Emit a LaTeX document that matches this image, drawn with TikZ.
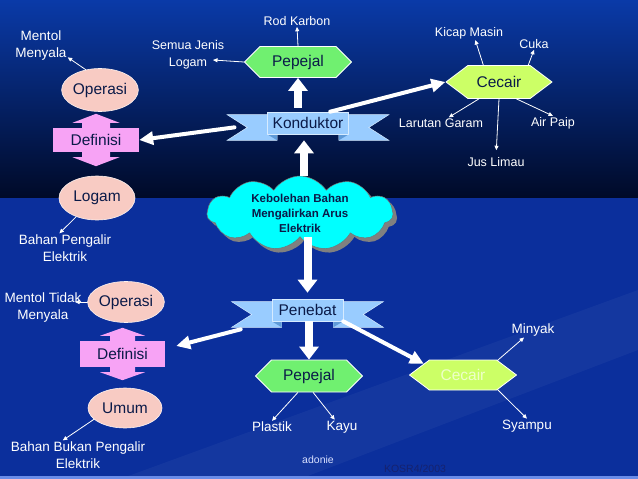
\documentclass[tikz,border=0pt]{standalone}
\usepackage{fontspec}
\setmainfont{Liberation Sans}
\usetikzlibrary{
  arrows.meta,
  positioning,
  calc,
  shapes.geometric,
  shapes.symbols,
  shadows,
  backgrounds
}

\definecolor{bgtop}{HTML}{0A3AA8}
\definecolor{bgdark}{HTML}{000A28}
\definecolor{bglow}{HTML}{0B2F9C}
\definecolor{bgedge}{HTML}{6A8CE8}
\definecolor{solidgreen}{HTML}{70F070}
\definecolor{liquidlime}{HTML}{CCFF66}
\definecolor{liquidtext}{HTML}{EEFFC8}
\definecolor{ribbonblue}{HTML}{99CCFF}
\definecolor{ribbonfold}{HTML}{5F9AD8}
\definecolor{cloudcyan}{HTML}{00FFFF}
\definecolor{ovalpink}{HTML}{F8CBC3}
\definecolor{defpink}{HTML}{F7A3F5}
\definecolor{inktext}{HTML}{0A1A48}
\definecolor{footink}{HTML}{16226E}
\definecolor{footlight}{HTML}{D8E0FF}

\newcommand\nodefont{\fontsize{15.5}{18}\selectfont}
\newcommand\labfont{\fontsize{12.5}{16.5}\selectfont}
\newcommand\sidefont{\fontsize{13.5}{17}\selectfont}

\pgfdeclarelayer{backdrop}
\pgfsetlayers{backdrop,background,main}

% swallow-tail band behind a banner box
\newcommand\ribbonband[1]{%
  \fill[ribbonblue, draw=white!60!ribbonblue, line width=0.5pt]
    ($(#1.north west)+(10,3)$) -- ($(#1.north west)+(-40,3)$)
    -- ($(#1.west)+(-20,4.5)$) -- ($(#1.south west)+(-40,6)$)
    -- ($(#1.south west)+(10,6)$) -- cycle;
  \fill[ribbonblue, draw=white!60!ribbonblue, line width=0.5pt]
    ($(#1.north east)+(-10,3)$) -- ($(#1.north east)+(40,3)$)
    -- ($(#1.east)+(20,4.5)$) -- ($(#1.south east)+(40,6)$)
    -- ($(#1.south east)+(-10,6)$) -- cycle;
  \fill[ribbonfold] (#1.south west) -- ($(#1.south west)+(10,6)$)
    -- ($(#1.south west)+(10,0)$) -- cycle;
  \fill[ribbonfold] (#1.south east) -- ($(#1.south east)+(-10,6)$)
    -- ($(#1.south east)+(-10,0)$) -- cycle;
}

% arrow heads above and below a definition box
% #1 node, #2 shaft half width, #3 shaft length, #4 head half width, #5 head length
\newcommand\updown[5]{%
  \fill[defpink]
    ($(#1.north)+(-#2,1)$) -- ($(#1.north)+(-#2,-#3)$)
    -- ($(#1.north)+(-#4,-#3)$) -- ($(#1.north)+(0,-#3-#5)$)
    -- ($(#1.north)+(#4,-#3)$) -- ($(#1.north)+(#2,-#3)$)
    -- ($(#1.north)+(#2,1)$) -- cycle;
  \fill[defpink]
    ($(#1.south)+(-#2,-1)$) -- ($(#1.south)+(-#2,#3)$)
    -- ($(#1.south)+(-#4,#3)$) -- ($(#1.south)+(0,#3+#5)$)
    -- ($(#1.south)+(#4,#3)$) -- ($(#1.south)+(#2,#3)$)
    -- ($(#1.south)+(#2,-1)$) -- cycle;
}

\begin{document}
\begin{tikzpicture}[
  x=1pt, y=-1pt,
  line cap=round,
  line join=round,
  hexsolid/.style={
    signal,
    signal to=west and east,
    signal pointer angle=90,
    draw=white,
    line width=0.8pt,
    fill=solidgreen,
    minimum width=107pt,
    minimum height=31pt,
    inner sep=0pt,
    text=inktext,
    font=\nodefont
  },
  hexliquid/.style={
    hexsolid,
    signal pointer angle=74,
    fill=liquidlime
  },
  oval/.style={
    ellipse,
    draw=white!75!ovalpink,
    line width=0.6pt,
    fill=ovalpink,
    minimum width=76pt,
    minimum height=43pt,
    inner sep=0pt,
    text=inktext,
    font=\nodefont
  },
  banner/.style={
    rectangle,
    draw=white!60!ribbonblue,
    line width=0.6pt,
    fill=ribbonblue,
    minimum height=22pt,
    inner sep=1pt,
    text=inktext,
    font=\nodefont
  },
  defbox/.style={
    rectangle,
    fill=defpink,
    minimum width=86pt,
    minimum height=25pt,
    inner sep=0pt,
    text=inktext,
    font=\nodefont
  },
  idea/.style={
    cloud,
    cloud puffs=11,
    cloud puff arc=115,
    aspect=2.6,
    draw=black!55,
    line width=0.5pt,
    fill=cloudcyan,
    minimum width=186pt,
    minimum height=70pt,
    inner sep=0pt,
    align=center,
    text=inktext,
    font=\fontsize{11.5}{15}\selectfont\bfseries,
    drop shadow={shadow xshift=4pt, shadow yshift=-4pt,
                 fill=black!50, opacity=1}
  },
  lab/.style={
    text=white,
    font=\labfont,
    align=center,
    inner sep=1pt
  },
  side/.style={
    lab,
    font=\sidefont
  },
  lbl/.style={
    draw=white,
    line width=0.8pt,
    -{Triangle[length=4.5pt,width=4pt]}
  },
  link/.style={
    draw=white,
    line width=4pt,
    -{Triangle[length=14pt,width=13pt]}
  },
  push/.style={
    draw=white,
    line width=8pt,
    line cap=butt,
    -{Triangle[length=13pt,width=19pt]}
  }
]

% Slide background
\begin{pgfonlayer}{backdrop}
  \fill[bglow] (0,0) rectangle (638,479);
  \shade[top color=bgtop, bottom color=bgdark] (0,0) rectangle (638,197);
  \fill[white, opacity=0.04] (120,479) -- (638,290) -- (638,350) -- (300,479) -- cycle;
  \fill[bgedge] (0,476) rectangle (638,479);
\end{pgfonlayer}
\useasboundingbox (0,0) rectangle (638,479);

% Centre column
\node[idea]      (cloud) at (300,213) {Kebolehan Bahan\\Mengalirkan Arus\\Elektrik};
\node[banner, minimum width=81pt] (kond) at (308,123) {Konduktor};
\node[banner, minimum width=71pt] (pene) at (307.5,310) {Penebat};

\begin{pgfonlayer}{background}
  \ribbonband{kond}
  \ribbonband{pene}
\end{pgfonlayer}

% Konduktor branch
\node[hexsolid]  (pepA) at (298,62)  {Pepejal};
\node[hexliquid, minimum width=106pt, minimum height=33pt] (cecA) at (499,82) {Cecair};

\node[lab] (rodk)  at (297,21)  {Rod Karbon};
\node[lab] (semua) at (188,55)  {Semua Jenis\\Logam};
\node[lab] (kicap) at (469,33)  {Kicap Masin};
\node[lab] (cuka)  at (534,44)  {Cuka};
\node[lab] (larut) at (441,123) {Larutan Garam};
\node[lab] (jus)   at (496,162) {Jus Limau};
\node[lab] (airp)  at (553,123) {Air Paip};
\coordinate (semuaTip) at (213,60);

% Penebat branch
\node[hexsolid, minimum height=32pt] (pepB) at (309,376) {Pepejal};
\node[hexliquid, minimum width=107pt, minimum height=30pt, text=liquidtext] (cecB) at (463,375) {Cecair};

\node[side] (plast) at (272,427) {Plastik};
\node[side] (kayu)  at (342,427) {Kayu};
\node[side] (miny)  at (533,330) {Minyak};
\node[side] (syam)  at (527,426) {Syampu};

% Left column, top
\node[oval, minimum width=75pt]   (opA)  at (100,90)  {Operasi};
\node[defbox, minimum height=24pt] (defA) at (96,140) {Definisi};
\node[oval, minimum height=44pt]  (logA) at (97,198)  {Logam};
\node[side] (mentA) at (41,46)  {Mentol\\Menyala};
\node[side] (bahA)  at (65,248) {Bahan Pengalir\\Elektrik};
\updown{defA}{14}{5}{23.5}{9}

% Left column, bottom
\node[oval, minimum width=72pt, minimum height=41pt] (opB) at (126,302) {Operasi};
\node[defbox, minimum width=85pt, minimum height=26pt] (defB) at (122.5,354) {Definisi};
\node[oval, minimum width=74pt, minimum height=40pt] (umB) at (125,408) {Umum};
\node[side] (mentB) at (43,308) {Mentol Tidak\\Menyala};
\node[side] (bahB)  at (78,455) {Bahan Bukan Pengalir\\Elektrik};
\coordinate (mentBtip) at (75,302);
\updown{defB}{12.5}{5}{22.5}{8}

% Footer
\node[font=\fontsize{10.5}{12}\selectfont, text=footlight] (adonie) at (318,460) {adonie};
\node[font=\fontsize{10.5}{12}\selectfont, text=footink]   (kosr)   at (415,469) {KOSR4/2003};

% Main flow
\draw[push, shorten <=4pt] (pepA.south |- kond.north) -- (pepA.south);
\draw[push] ($(cloud.north)+(4,0)$) -- ($(kond.south)+(-4,6)$);
\draw[push] (cloud.south -| pene.north) -- ($(pene.north)+(0,-6)$);
\draw[push] (pene.south -| pepB.north) -- (pepB.north);

\draw[link] (kond.27) -- (cecA.west);
\draw[link, shorten <=33pt] (kond.west) -- (defA.east);
\draw[link, shorten <=32pt] (pene.south west) -- ($(defB.east)+(11,-8)$);
\draw[link] (pene.south east) -- (cecB.164);

% Example arrows
\draw[lbl] (pepA.north) -- (rodk.south);
\draw[lbl] (pepA.west) -- (semuaTip);
\draw[lbl] (cecA.133) -- (kicap.-48);
\draw[lbl] (cecA.30) -- (cuka.south);
\draw[lbl] (cecA.-140) -- (larut.36);
\draw[lbl, shorten >=6pt] (cecA.south) -- (jus.north);
\draw[lbl] (cecA.-44) -- (airp.north);

\draw[lbl] (pepB.-124) -- (plast.north);
\draw[lbl] (pepB.-76) -- (kayu.135);
\draw[lbl] (cecB.23) -- (miny.-140);
\draw[lbl] (cecB.-23) -- (syam.north);

\draw[lbl] (opA.125) -- (mentA.-23);
\draw[lbl] (logA.-138) -- (bahA.111);
\draw[lbl] (opB.west) -- (mentBtip);
\draw[lbl] (umB.-160) -- (bahB.136);

\end{tikzpicture}
\end{document}
